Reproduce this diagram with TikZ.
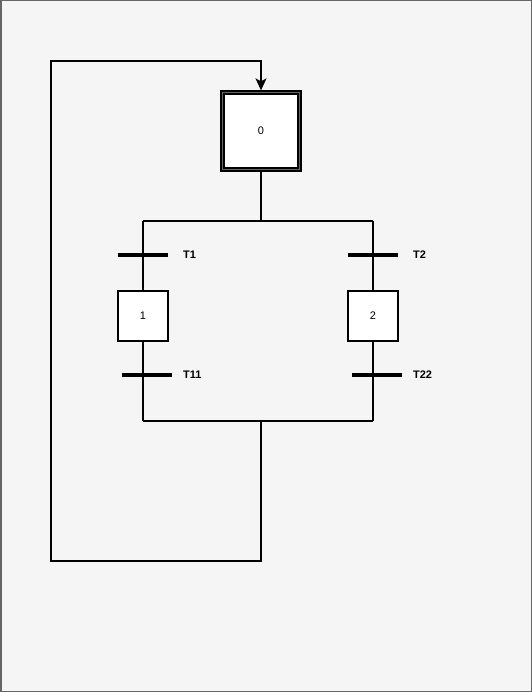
\documentclass[tikz,border=0pt]{standalone}
\usepackage{fontspec}
\setmainfont{Liberation Sans}
\usetikzlibrary{arrows.meta}
\definecolor{bgc}{HTML}{F5F5F5}
\definecolor{brd}{HTML}{666666}
\begin{document}
\begin{tikzpicture}[x=1bp,y=-1bp,
  stepbox/.style={draw=black,fill=white,line width=1.3bp,minimum width=50bp,minimum height=50bp,inner sep=0pt,font=\fontsize{11}{13}\selectfont},
  initbox/.style={draw=black,fill=brd,line width=1.3bp,minimum width=80bp,minimum height=80bp,inner sep=0pt},
  trbar/.style={fill=black,draw=none,minimum width=50bp,minimum height=4bp,inner sep=0pt},
  trlabel/.style={anchor=west,inner sep=0pt,font=\bfseries\fontsize{11}{13}\selectfont},
  wire/.style={line width=1.3bp,draw=black}]
\useasboundingbox (0,0) rectangle (532,692);
\fill[bgc] (0,0) rectangle (532,692);
\draw[brd,line width=1.5bp] (0.75,0.75) rectangle (531.25,691.25);
% initial step
\node[initbox] (s0o) at (261,131) {};
\node[stepbox,minimum width=74bp,minimum height=74bp] (s0) at (261,131) {0};
% junctions
\coordinate (jt) at (261,221);
\coordinate (jtl) at (143,221);
\coordinate (jtr) at (373,221);
\coordinate (jb) at (261,421);
\coordinate (jbl) at (143,421);
\coordinate (jbr) at (373,421);
\coordinate (lb) at (261,561);
\coordinate (lbl) at (51,561);
\coordinate (ltl) at (51,61);
\coordinate (ltr) at (261,61);
% left branch
\node[stepbox] (s1) at (143,316) {1};
\node[trbar] (t1) at (143,254.5) {};
\node[trbar] (t11) at (146.5,374.5) {};
% right branch
\node[stepbox] (s2) at (373,316) {2};
\node[trbar] (t2) at (373,254.5) {};
\node[trbar] (t22) at (376.5,374.5) {};
% labels
\node[trlabel] (l1) at (183,254.5) {T1};
\node[trlabel] (l11) at (183,374.5) {T11};
\node[trlabel] (l2) at (413,254.5) {T2};
\node[trlabel] (l22) at (413,374.5) {T22};
% wires
\draw[wire] (s0o.south) -- (jt);
\draw[wire] (jtl) -- (jtr);
\draw[wire] (jtl) -- (s1.north);
\draw[wire] (s1.south) -- (jbl);
\draw[wire] (jtr) -- (s2.north);
\draw[wire] (s2.south) -- (jbr);
\draw[wire] (jbl) -- (jbr);
\draw[wire,-{Stealth[length=12bp,width=11bp,inset=3bp]}] (jb) -- (lb) -- (lbl) -- (ltl) -- (ltr) -- (s0o.north);
\end{tikzpicture}
\end{document}
